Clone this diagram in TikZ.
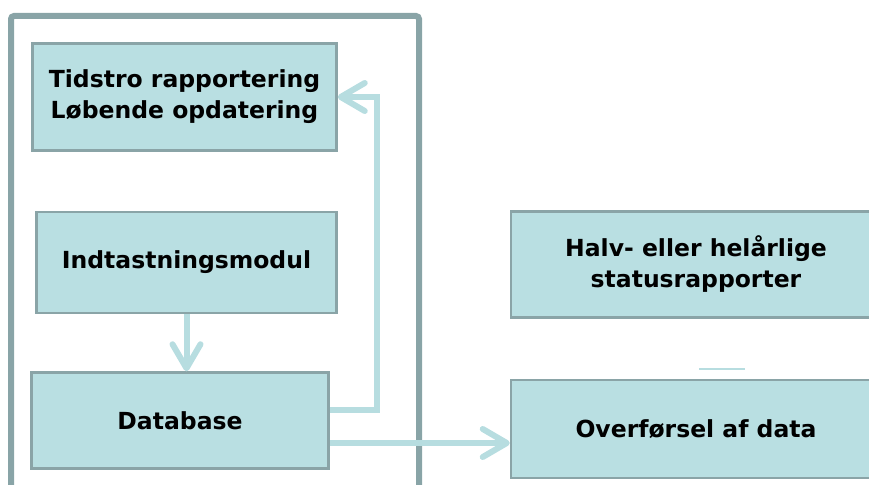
\documentclass[tikz,border=0pt]{standalone}
\usepackage{fontspec}
\setmainfont{DejaVu Sans}
\usepackage{tikz}
\usetikzlibrary{arrows.meta}
\usetikzlibrary{shapes,positioning}
\definecolor{boxfill}{HTML}{B9DFE2}
\definecolor{boxline}{HTML}{8AA4A7}
\definecolor{frameline}{HTML}{89A4A7}
\definecolor{flowline}{HTML}{B7DDE0}
\tikzset{flow-line/.style={line width=6pt, draw=flowline}}
\tikzset{>={Straight Barb[length=24pt, width=28pt, round]}}
\tikzset{mod-box/.style={draw=boxline, line width=2.5pt, fill=boxfill, inner sep=0, align=center, font=\bfseries\fontsize{23.5}{31}\selectfont}}
\tikzset{frame-line/.style={draw=frameline, line width=6pt, rounded corners=3pt}}

\begin{document}
\begin{tikzpicture}[x=1pt, y=-1pt]
            \useasboundingbox (0,0) rectangle (869,484);

            \draw[frame-line] (11,16) rectangle (419,500);

            \node[mod-box, minimum width=304pt, minimum height=107pt] (tidstro) at (184.5,97) {Tidstro rapportering\\Løbende opdatering};
            \node[mod-box, minimum width=300pt, minimum height=101pt, below=59pt of tidstro.south, anchor=north, xshift=2pt] (indtast) {Indtastningsmodul};
            \node[mod-box, minimum width=297pt, minimum height=96pt, below=57pt of indtast.south, anchor=north, xshift=-6.5pt] (database) {Database};

            \node[mod-box, minimum width=370pt, minimum height=106pt, right=172pt of indtast.east, anchor=west, yshift=-2pt] (status) {Halv- eller helårlige\\statusrapporter};
            \node[mod-box, minimum width=370pt, minimum height=98pt, below=60pt of status.south, anchor=north] (overfor) {Overførsel af data};

            \coordinate (restA) at (699,369);
            \coordinate (restB) at (745,369);

            \draw[->, flow-line] (indtast.south) -- (indtast.south |- database.north);
            \draw[->, flow-line] ([yshift=10.5pt]database.east) -| ([xshift=39pt]tidstro.east) -- (tidstro.east);
            \draw[->, flow-line] ([yshift=-22.5pt]database.east) -- ([yshift=-22.5pt]database.east -| overfor.west);
            \draw[flowline, line width=1.5pt] (restA) -- (restB);
        \end{tikzpicture}
\end{document}
